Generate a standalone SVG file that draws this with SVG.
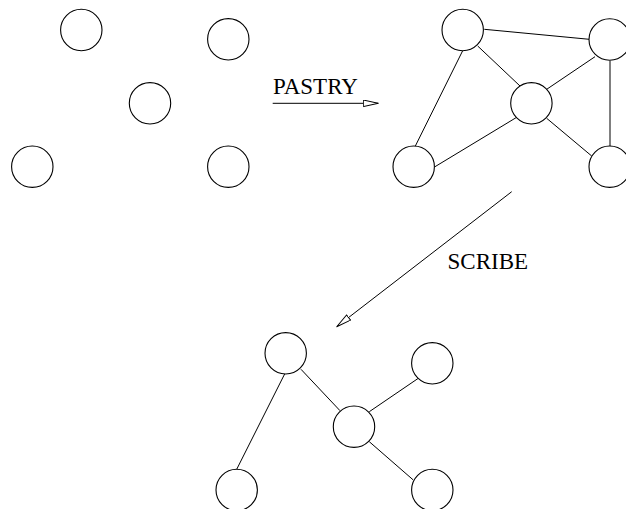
<svg xmlns="http://www.w3.org/2000/svg" width="626" height="509" viewBox="0 0 626 509">
  <style>
    .node { fill: #fff; stroke: #000; stroke-width: 1.1; }
    .edge { stroke: #000; stroke-width: 1; fill: none; }
    .arrow { stroke: #000; stroke-width: 1; fill: none; marker-end: url(#hollow); }
    .label { font-family: "Liberation Serif", "Times New Roman", serif; font-size: 23px; fill: #000; }
  </style>
  <defs>
    <marker id="hollow" markerUnits="userSpaceOnUse" markerWidth="18" markerHeight="10" refX="15.5" refY="3.6" orient="auto">
      <path d="M0.5,0.3 L15.5,3.6 L0.5,6.9 Z" fill="#fff" stroke="#000" stroke-width="1"/>
    </marker>
  </defs>

  <!-- connectors -->
  <g id="connectors">
    <!-- mesh -->
    <line class="edge" x1="484.3" y1="29.3" x2="589.3" y2="39.3"/>
    <line class="edge" x1="477.7" y1="46" x2="520" y2="86"/>
    <line class="edge" x1="462.7" y1="50.7" x2="415" y2="146.7"/>
    <line class="edge" x1="546.7" y1="89.3" x2="595" y2="56.7"/>
    <line class="edge" x1="610" y1="60.7" x2="610" y2="146.7"/>
    <line class="edge" x1="517.7" y1="116.7" x2="435" y2="166.7"/>
    <line class="edge" x1="546.7" y1="118.3" x2="591.7" y2="156"/>
    <!-- tree -->
    <line class="edge" x1="285" y1="373.3" x2="236.7" y2="469.3"/>
    <line class="edge" x1="301" y1="369.3" x2="340" y2="410.7"/>
    <line class="edge" x1="369.3" y1="411.7" x2="418.3" y2="378.3"/>
    <line class="edge" x1="369.3" y1="441.7" x2="413.3" y2="480"/>
    <!-- transitions -->
    <line class="arrow" x1="272.7" y1="103.3" x2="378.3" y2="103.3"/>
    <line class="arrow" x1="511.7" y1="191.7" x2="336.7" y2="326.7"/>
  </g>

  <!-- labels -->
  <text class="label" x="273" y="94">PASTRY</text>
  <text class="label" x="447.5" y="269.3">SCRIBE</text>

  <!-- unconnected nodes -->
  <g id="p1"><circle class="node" cx="81.3" cy="30" r="20.7"/></g>
  <g id="p2"><circle class="node" cx="228.3" cy="39.3" r="20.7"/></g>
  <g id="p3"><circle class="node" cx="150" cy="103.3" r="20.7"/></g>
  <g id="p4"><circle class="node" cx="32.3" cy="166.7" r="20.7"/></g>
  <g id="p5"><circle class="node" cx="228.3" cy="166.7" r="20.7"/></g>

  <!-- mesh nodes -->
  <g id="m1"><circle class="node" cx="462.7" cy="30" r="20.7"/></g>
  <g id="m2"><circle class="node" cx="609.7" cy="39.5" r="20.7"/></g>
  <g id="m3"><circle class="node" cx="531.4" cy="103.3" r="20.7"/></g>
  <g id="m4"><circle class="node" cx="413.7" cy="166.7" r="20.7"/></g>
  <g id="m5"><circle class="node" cx="609.7" cy="166.7" r="20.7"/></g>

  <!-- tree nodes -->
  <g id="t1"><circle class="node" cx="285.7" cy="353.3" r="20.7"/></g>
  <g id="t2"><circle class="node" cx="432.3" cy="363.3" r="20.7"/></g>
  <g id="t3"><circle class="node" cx="354" cy="426.7" r="20.7"/></g>
  <g id="t4"><circle class="node" cx="236.7" cy="490" r="20.7"/></g>
  <g id="t5"><circle class="node" cx="432.3" cy="490" r="20.7"/></g>
</svg>
